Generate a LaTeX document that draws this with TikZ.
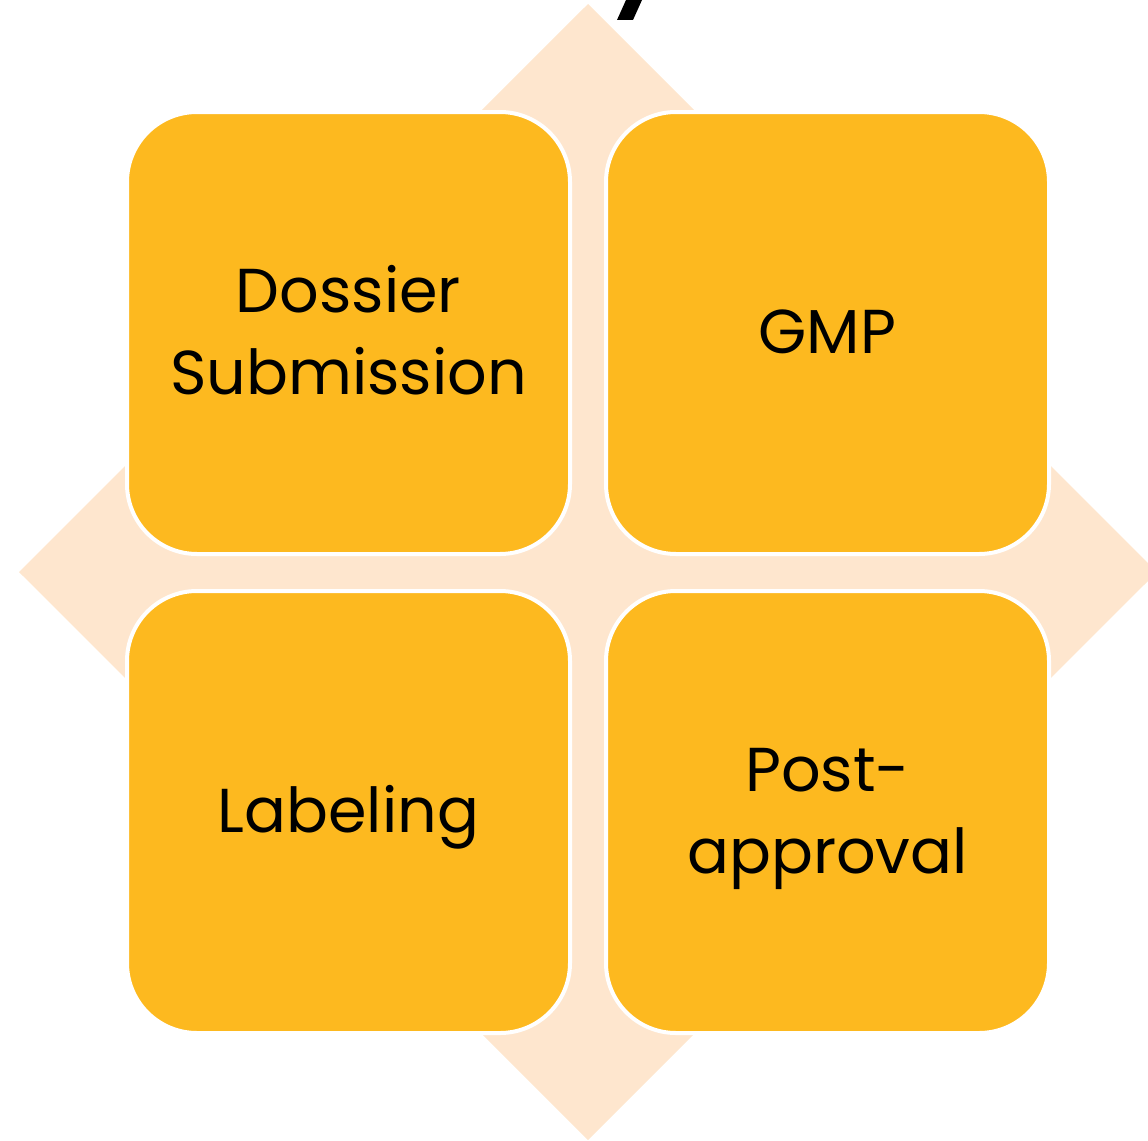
\documentclass[tikz,border=0pt]{standalone}
\usepackage{fontspec}
\setmainfont{Poppins}
\definecolor{peach}{RGB}{254,230,206}
\definecolor{gold}{RGB}{253,185,31}
\newcommand\tstrut{\rule[-20pt]{0pt}{81pt}}
\tikzset{
  tile/.style={draw=white, line width=4pt, fill=gold, rounded corners=70pt,
    minimum width=443pt, minimum height=442pt, inner sep=0pt, outer sep=0pt,
    align=center, text=black, font=\fontsize{62}{82}\selectfont}
}
\begin{document}
\begin{tikzpicture}[x=1pt, y=-1pt]
\useasboundingbox (0,0) rectangle (1148,1140);
\fill[peach] (588,4) -- (1157,572) -- (588,1140) -- (19,572) -- cycle;
\fill[black] (626,0) -- (642,0) -- (633,20) -- (617,20) -- cycle;
\node[tile] (dossier) at (348.5,333) {\tstrut Dossier\\\tstrut Submission};
\node[tile] (gmp) at (827.5,333) {\tstrut GMP};
\node[tile] (labeling) at (348.5,812) {\tstrut Labeling};
\node[tile] (post) at (827.5,812) {\tstrut Post-\\\tstrut approval};
\end{tikzpicture}
\end{document}
